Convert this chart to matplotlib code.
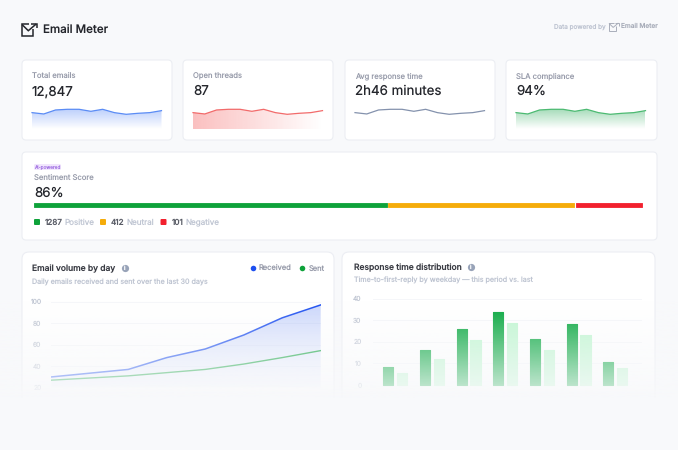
import matplotlib
matplotlib.use("Agg")
import matplotlib.pyplot as plt
import numpy as np
from matplotlib.colors import LinearSegmentedColormap, to_rgb
from matplotlib.patches import FancyBboxPatch, Rectangle

W, H = 678, 450
BG = "#f8f9fb"
BORDER = "#eceef3"
INK = "#24262c"
GREY = "#979baa"
PALE = "#bfc5d2"

plt.rcParams["font.family"] = ["Inter", "DejaVu Sans"]
plt.rcParams["text.hinting"] = "none"
plt.rcParams["text.hinting_factor"] = 1

# data
spark_values = [50, 46, 58, 60, 60, 54, 60, 50, 45, 48, 50, 56]
kpi_labels = ["Total emails", "Open threads", "Avg response time", "SLA compliance"]
kpi_values = ["12,847", "87", "2h46 minutes", "94%"]

sentiment_counts = [1287, 412, 101]
sentiment_names = ["Positive", "Neutral", "Negative"]
sentiment_share = [58, 30.7, 11]

received = [30, 33.5, 37, 48, 56, 69, 85, 97]
sent = [27, 29, 31, 34, 37, 42, 48, 54.5]
volume_ticks = [20, 40, 60, 80, 100]

this_period = [8.3, 16, 26, 33.7, 21.3, 28.3, 10.8]
last_period = [5.4, 11.9, 20.7, 28.9, 16, 23.2, 7.9]
response_ticks = [0, 10, 20, 30, 40]

fig = plt.figure(figsize=(W / 100, H / 100), dpi=100, facecolor=BG)
base = fig.add_axes([0, 0, 1, 1])
base.set_xlim(0, W)
base.set_ylim(H, 0)
base.axis("off")


def label(x, y, s, size, color, weight="normal", ha="left"):
    # y is the middle of the capitals, so all labels on a row share a baseline
    base.text(x, y + 0.5 * size, s, fontsize=size, color=color,
              fontweight=weight, ha=ha, va="baseline")


def px_axes(x0, y0, x1, y1):
    # axes placed by pixel box, y counted from the top
    ax = fig.add_axes([x0 / W, 1 - y1 / H, (x1 - x0) / W, (y1 - y0) / H])
    ax.patch.set_alpha(0)
    for s in ax.spines.values():
        s.set_visible(False)
    ax.tick_params(length=0)
    return ax


def card(x0, y0, x1, y1, r=4):
    base.add_patch(FancyBboxPatch(
        (x0 + r, y0 + r), x1 - x0 - 2 * r, y1 - y0 - 2 * r,
        boxstyle=f"round,pad={r},rounding_size={r}",
        fc="white", ec=BORDER, lw=0.8))


def gradient_fill(ax, x, y, color, a0, a1, horizontal=False):
    # fill under the line, faded with an image clipped to the polygon
    rgb = to_rgb(color)
    cmap = LinearSegmentedColormap.from_list(
        "fade", [rgb + (a0,), rgb + (a1,)])
    grad = np.linspace(0, 1, 200)
    grad = grad[None, :] if horizontal else grad[:, None]
    x0, x1 = ax.get_xlim()
    y0, y1 = ax.get_ylim()
    top = max(y) if not horizontal else y1
    im = ax.imshow(grad, cmap=cmap, vmin=0, vmax=1, aspect="auto",
                   extent=[x[0], x[-1], y0, top], origin="upper", zorder=1)
    poly = ax.fill_between(x, y, y0, color="none")
    im.set_clip_path(poly.get_paths()[0], transform=ax.transData)
    ax.set_xlim(x0, x1)
    ax.set_ylim(y0, y1)


def logo(x, y, s, color, lw):
    # open envelope with an arrow at its corner
    style = dict(color=color, lw=lw, solid_joinstyle="miter", solid_capstyle="butt")
    base.plot([x + 7.3 * s, x, x, x + 11.3 * s, x + 11.3 * s],
              [y, y, y + 12 * s, y + 12 * s, y + 5 * s], **style)
    base.plot([x, x + 6.3 * s, x + 14.2 * s], [y + 0.5 * s, y + 6.7 * s, y], **style)
    base.plot([x + 8.5 * s, x + 14.7 * s, x + 14.7 * s],
              [y, y, y + 4.3 * s], **style)


# header
logo(22, 24, 1.0, INK, 1.1)
label(43, 30, "Email Meter", 8.3, INK, "medium")
label(554, 26, "Data powered by", 4.6, PALE)
logo(609, 23, 0.66, "#a9aeba", 0.7)
label(621, 26, "Email Meter", 4.7, "#a9aeba", "medium")

# kpi cards
kpi_boxes = [(22, 172), (183, 333), (345, 495), (506, 657)]
kpi_lines = ["#5b8cf5", "#f26b6b", "#8492ad", "#4cba72"]
for i, (x0, x1) in enumerate(kpi_boxes):
    card(x0, 60, x1, 140)
    label(x0 + 10, 75.5, kpi_labels[i], 5.5, GREY)
    label(x0 + 10, 90.5, kpi_values[i], 9.6, INK)
    ax = px_axes(x0 + 10, 107.3, x0 + 139.5, 129.3)
    xs = np.arange(len(spark_values))
    ax.set_xlim(xs[0], xs[-1])
    ax.set_ylim(0, 66)
    ax.set_xticks([])
    ax.set_yticks([])
    if i == 0:
        gradient_fill(ax, xs, spark_values, "#2f6bf6", 0.32, 0.0)
    elif i == 1:
        gradient_fill(ax, xs, spark_values, "#f23a3a", 0.32, 0.0, horizontal=True)
    elif i == 3:
        gradient_fill(ax, xs, spark_values, "#16a34a", 0.38, 0.0)
    ax.plot(xs, spark_values, color=kpi_lines[i], lw=0.9, zorder=2, clip_on=False)

# sentiment card
card(22, 152, 657, 240)
base.add_patch(FancyBboxPatch((35, 165), 25, 4, boxstyle="round,pad=1,rounding_size=1.5",
                              fc="#f1e6fd", ec="none"))
label(47.5, 167, "AI-powered", 3.4, "#a678e4", ha="center")
label(34, 177.5, "Sentiment Score", 5.5, GREY)
label(34, 192.5, "86%", 9.6, INK)

sent_colors = ["#0ea23a", "#f5ac0a", "#f2202e"]
bar_ax = px_axes(34, 203, 645, 207.3)
bar_ax.set_xlim(0, sum(sentiment_share) + 0.3)
bar_ax.set_ylim(0, 1)
bar_ax.set_xticks([])
bar_ax.set_yticks([])
left = 0
for n, c in zip(sentiment_share, sent_colors):
    bar_ax.barh(0.5, n - 0.25, left=left, height=0.8, color=c, edgecolor=c, lw=0.6,
                joinstyle="round", align="center", clip_on=False)
    left += n

legend_x = [34, 100, 160.5]
num_x = [44.5, 111, 171.5]
name_x = [64, 126, 185.5]
for lx, nx, tx, c, n, name in zip(legend_x, num_x, name_x, sent_colors,
                                  sentiment_counts, sentiment_names):
    base.add_patch(FancyBboxPatch((lx + 0.5, 219.5), 5, 5, boxstyle="round,pad=0.5,rounding_size=1",
                                  fc=c, ec="none"))
    label(nx, 222, str(n), 5.8, "#5a5d67", "medium")
    label(tx, 222, name, 5.8, PALE)

# email volume card
card(22, 252, 334, 430, r=7)
label(32.5, 268, "Email volume by day", 6.1, "#3a3c44", "medium")
base.plot([124.5], [268], "o", ms=5.2, color="#98a3b8", mec="none")
label(124.5, 268, "i", 3.8, "white", "bold", ha="center")
base.plot([252.5], [268], "o", ms=4, color="#1d4ff0", mec="none")
label(259, 268, "Received", 5.4, GREY)
base.plot([302], [268], "o", ms=4, color="#0ea23a", mec="none")
label(308.5, 268, "Sent", 5.4, GREY)
label(32.5, 282, "Daily emails received and sent over the last 30 days", 5.15, PALE)

ax1 = px_axes(51.3, 301.7, 320.7, 387.7)
days = np.arange(len(received))
ax1.set_xlim(days[0], days[-1])
ax1.set_ylim(volume_ticks[0], volume_ticks[-1])
ax1.set_xticks([])
ax1.set_yticks(volume_ticks, [str(t) for t in volume_ticks])
ax1.tick_params(axis="y", labelsize=4.8, labelcolor=PALE, pad=7)
for t in volume_ticks:
    ax1.axhline(t, color="#f5f6f9", lw=0.7, zorder=0)
gradient_fill(ax1, days, received, "#2f5cf0", 0.25, 0.05)
ax1.plot(days, received, color="#1d4ff0", lw=1.1, zorder=3)
ax1.plot(days, sent, color="#0ea23a", lw=1.0, zorder=3)

# response time card
card(342, 252, 655, 430, r=7)
label(353.5, 267, "Response time distribution", 6.1, "#3a3c44", "medium")
base.plot([470.5], [267], "o", ms=5.2, color="#98a3b8", mec="none")
label(470.5, 267, "i", 3.8, "white", "bold", ha="center")
label(353.5, 279.5, "Time-to-first-reply by weekday \u2014 this period vs. last", 5.15, PALE)

ax2 = px_axes(372.7, 298.7, 641.7, 385)
groups = np.arange(len(this_period))
ax2.set_xlim(-0.616, 6.72)
ax2.set_ylim(response_ticks[0], response_ticks[-1])
ax2.set_xticks([])
ax2.set_yticks(response_ticks, [str(t) for t in response_ticks])
ax2.tick_params(axis="y", labelsize=4.8, labelcolor=PALE, pad=8)
for t in response_ticks:
    ax2.axhline(t, color="#f5f6f9", lw=0.7, zorder=0)
ax2.bar(groups - 0.19, this_period, width=0.28, color="#04a63c", edgecolor="#04a63c",
        lw=0.8, joinstyle="round", zorder=2, clip_on=False)
ax2.bar(groups + 0.19, last_period, width=0.28, color="#bff6d0", edgecolor="#bff6d0",
        lw=0.8, joinstyle="round", zorder=2, clip_on=False)

# everything below fades into the page colour
fade = fig.add_axes([0, 0, 1, 1], zorder=5)
fade.set_xlim(0, W)
fade.set_ylim(H, 0)
fade.axis("off")
rgb = to_rgb(BG)
fade_cmap = LinearSegmentedColormap.from_list(
    "page", [(0.0, rgb + (0.0,)), (0.87, rgb + (0.75,)), (1.0, rgb + (1.0,))])
fade.imshow(np.linspace(0, 1, 200)[:, None], cmap=fade_cmap, aspect="auto",
            extent=[0, W, 398, 300], origin="upper")
fade.add_patch(Rectangle((0, 398), W, 52, fc=BG, ec="none"))
fade.set_xlim(0, W)
fade.set_ylim(H, 0)

fig.savefig("out.png", dpi=100, facecolor=BG)
